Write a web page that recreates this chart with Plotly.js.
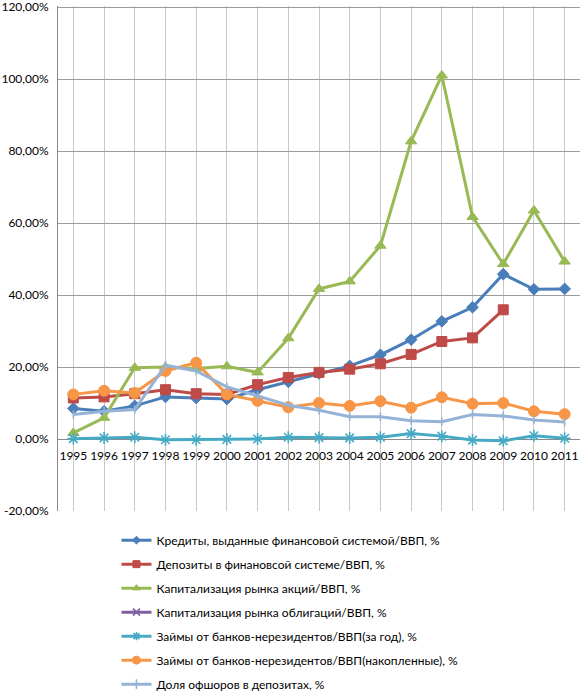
<!DOCTYPE html>
<html>
<head>
<meta charset="utf-8">
<script src="https://cdn.plot.ly/plotly-3.0.1.min.js"></script>
<style>html,body{margin:0;padding:0;background:#fff;}#chart{width:581px;height:696px;}</style>
</head>
<body>
<div id="chart"></div>
<script>
var years = ['1995','1996','1997','1998','1999','2000','2001','2002','2003','2004','2005','2006','2007','2008','2009','2010','2011'];
var yTickVals = [-20, 0, 20, 40, 60, 80, 100, 120];
var yTickText = ['-20,00%', '0,00%', '20,00%', '40,00%', '60,00%', '80,00%', '100,00%', '120,00%'];
var credits   = [8.5, 7.7, 9.2, 11.7, 11.4, 11.1, 13.7, 15.9, 18.2, 20.3, 23.4, 27.6, 32.7, 36.6, 45.8, 41.6, 41.7];
var deposits  = [11.4, 11.7, 12.6, 13.7, 12.6, 12.4, 15.1, 17.1, 18.5, 19.4, 20.9, 23.5, 27.1, 28.1, 35.9, null, null];
var stockCap  = [1.7, 5.9, 19.8, 20.0, 19.6, 20.2, 18.5, 28.0, 41.7, 43.8, 53.7, 82.7, 101.0, 61.7, 48.6, 63.5, 49.3];
var bondCap   = [null, null, null, null, null, null, null, null, null, null, null, null, null, null, null, null, null];
var loansYear = [0.1, 0.3, 0.5, -0.2, -0.2, -0.1, 0.0, 0.5, 0.4, 0.3, 0.5, 1.5, 0.8, -0.3, -0.5, 0.9, 0.2];
var loansAcc  = [12.4, 13.4, 12.8, 18.9, 21.2, 12.4, 10.6, 8.8, 10.0, 9.2, 10.5, 8.7, 11.6, 9.8, 10.0, 7.7, 6.9];
var offshore  = [6.8, 7.7, 8.2, 20.5, 18.9, 14.5, 12.0, 9.4, 8.0, 6.2, 6.2, 5.1, 4.8, 6.8, 6.4, 5.3, 4.7];
var names = [
  'Кредиты, выданные финансовой системой/ВВП, %',
  'Депозиты в финановсой системе/ВВП, %',
  'Капитализация рынка акций/ВВП, %',
  'Капитализация рынка облигаций/ВВП, %',
  'Займы от банков-нерезидентов/ВВП(за год), %',
  'Займы от банков-нерезидентов/ВВП(накопленные), %',
  'Доля офшоров в депозитах, %'
];
var series = [credits, deposits, stockCap, bondCap, loansYear, loansAcc, offshore];
var colors = ['#4A7EBB', '#BE4B48', '#98B954', '#7D60A0', '#46AAC5', '#F79646', '#95B3D7'];
var symbols = ['diamond', 'square', 'triangle-up', 'x-thin-open', 'asterisk-open', 'circle', 'line-ns-open'];
var sizes = [9, 10, 10, 8, 10, 11, 6];
var legSizes = [6, 7, 7, 7, 7, 8, 7];
var openSym = [false, false, false, true, true, false, true];

var data = [];
for (var i = 0; i < series.length; i++) {
  data.push({
    x: years, y: series[i], name: names[i], type: 'scatter', mode: 'lines+markers',
    showlegend: false,
    line: {color: colors[i], width: 3},
    marker: {symbol: symbols[i], size: sizes[i], color: colors[i],
             line: {color: colors[i], width: openSym[i] ? 1.6 : 1}}
  });
}
for (var j = 0; j < series.length; j++) {
  data.push({
    x: [null], y: [null], name: names[j], type: 'scatter', mode: 'lines+markers',
    legendgroup: 'g' + j, showlegend: true,
    line: {color: colors[j], width: 3},
    marker: {symbol: symbols[j], size: legSizes[j], color: colors[j],
             line: {color: colors[j], width: openSym[j] ? 1.6 : 1}}
  });
}

var layout = {
  width: 581, height: 696,
  margin: {l: 58, r: 1, t: 6, b: 185, autoexpand: false},
  paper_bgcolor: '#fff', plot_bgcolor: '#fff',
  font: {family: 'Lato, "Open Sans", sans-serif', size: 12, color: '#000'},
  showlegend: true,
  xaxis: {
    type: 'category', range: [-0.5, 16.5],
    anchor: 'free', position: 0.142,
    showgrid: true, gridcolor: '#C8C8C8', gridwidth: 1,
    showline: false, zeroline: false, ticks: '',
    ticklabelstandoff: 8,
    tickfont: {size: 12, color: '#000'}, fixedrange: true
  },
  yaxis: {
    range: [-20, 120.3], tickmode: 'array',
    tickvals: yTickVals, ticktext: yTickText,
    ticklabeloverflow: 'allow',
    showgrid: true, gridcolor: '#9C9C9C', gridwidth: 1,
    zeroline: true, zerolinecolor: '#8A8A8A', zerolinewidth: 1,
    showline: true, linecolor: '#8A8A8A', linewidth: 1,
    ticks: '', ticklabelstandoff: 6,
    tickfont: {size: 12, color: '#000'}
  },
  legend: {
    x: 0.112, y: -0.029, xanchor: 'left', yanchor: 'top',
    traceorder: 'grouped', tracegroupgap: 5,
    font: {size: 12, color: '#000'},
    bgcolor: 'rgba(0,0,0,0)', borderwidth: 0, itemwidth: 30
  }
};

Plotly.newPlot('chart', data, layout, {displayModeBar: false, staticPlot: true});
</script>
</body>
</html>
